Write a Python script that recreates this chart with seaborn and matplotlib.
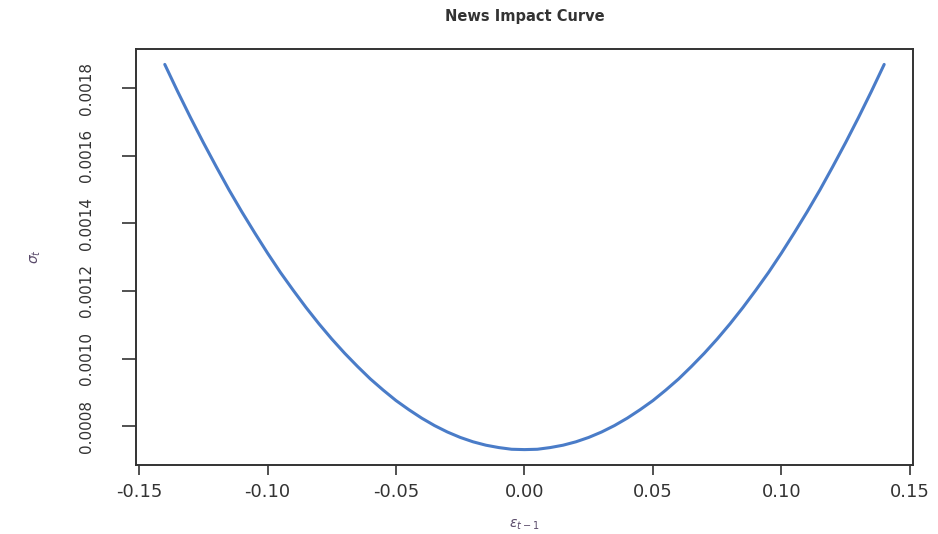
import numpy as np
import pandas as pd
import matplotlib
matplotlib.use("Agg")
import matplotlib.pyplot as plt
import seaborn as sns

# Shock values (previous-period innovation), step 0.005
eps_prev = [-0.140, -0.135, -0.130, -0.125, -0.120, -0.115, -0.110, -0.105, -0.100,
            -0.095, -0.090, -0.085, -0.080, -0.075, -0.070, -0.065, -0.060, -0.055,
            -0.050, -0.045, -0.040, -0.035, -0.030, -0.025, -0.020, -0.015, -0.010,
            -0.005, 0.000, 0.005, 0.010, 0.015, 0.020, 0.025, 0.030, 0.035, 0.040,
            0.045, 0.050, 0.055, 0.060, 0.065, 0.070, 0.075, 0.080, 0.085, 0.090,
            0.095, 0.100, 0.105, 0.110, 0.115, 0.120, 0.125, 0.130, 0.135, 0.140]

# Conditional volatility response
sigma_left = [0.001870, 0.001790, 0.001713, 0.001639, 0.001568, 0.001499, 0.001434,
              0.001372, 0.001312, 0.001255, 0.001202, 0.001151, 0.001103, 0.001058,
              0.001016, 0.000977, 0.000940, 0.000907, 0.000876, 0.000849, 0.000824,
              0.000802, 0.000783, 0.000767, 0.000754, 0.000744, 0.000737, 0.000732]
sigma_mid = [0.000731]
sigma_right = [0.000732, 0.000737, 0.000744, 0.000754, 0.000767, 0.000783, 0.000802,
               0.000824, 0.000849, 0.000876, 0.000907, 0.000940, 0.000977, 0.001016,
               0.001058, 0.001103, 0.001151, 0.001202, 0.001255, 0.001312, 0.001372,
               0.001434, 0.001499, 0.001568, 0.001639, 0.001713, 0.001790, 0.001870]
sigma_t = sigma_left + sigma_mid + sigma_right

x_ticks = [-0.15, -0.10, -0.05, 0.00, 0.05, 0.10, 0.15]
y_ticks = [0.0008, 0.0010, 0.0012, 0.0014, 0.0016, 0.0018]

sns.set_style("white")
plt.rcParams["font.family"] = ["DejaVu Sans"]

df = pd.DataFrame({"eps": eps_prev, "sigma": sigma_t})

fig = plt.figure(figsize=(9.38, 5.34), dpi=100)
ax = fig.add_axes([0.145, 0.1292, 0.8283, 0.779])

sns.lineplot(data=df, x="eps", y="sigma", ax=ax, color="#4a7cc8", linewidth=2.2)

# R-style 4% padding around the data range
xr = max(eps_prev) - min(eps_prev)
yr = max(sigma_t) - min(sigma_t)
ax.set_xlim(min(eps_prev) - 0.04 * xr, max(eps_prev) + 0.04 * xr)
ax.set_ylim(min(sigma_t) - 0.04 * yr, max(sigma_t) + 0.04 * yr)

ax.set_xticks(x_ticks)
ax.set_xticklabels([f"{v:.2f}" for v in x_ticks])
ax.set_yticks(y_ticks)
ax.set_yticklabels([f"{v:.4f}" for v in y_ticks], rotation=90, va="center")

ax.tick_params(axis="x", direction="out", length=7, width=1.2, color="#333333",
               labelsize=13, labelcolor="#333333", pad=6, bottom=True)
ax.tick_params(axis="y", direction="out", length=10, width=1.2, color="#333333",
               labelsize=11, labelcolor="#333333", pad=20, left=True)

for s in ax.spines.values():
    s.set_visible(True)
    s.set_color("#333333")
    s.set_linewidth(1.4)

ax.set_xlabel(r"$\varepsilon_{t-1}$", fontsize=10, color="#5a4a6a", labelpad=12)
ax.set_ylabel(r"$\sigma_t$", fontsize=10, color="#5a4a6a", labelpad=26)
ax.set_title("News Impact Curve", fontsize=10.5, fontweight="bold",
             color="#333333", pad=20)

fig.savefig("out.png", dpi=100, facecolor="white")
